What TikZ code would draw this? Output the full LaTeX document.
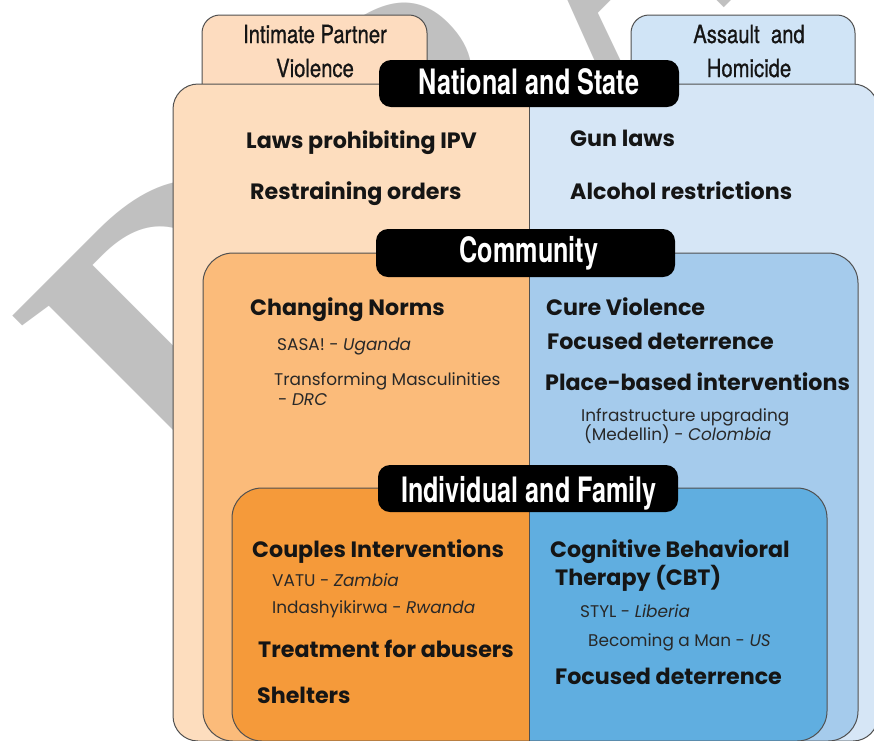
\documentclass[tikz,border=0pt]{standalone}
\usepackage{fontspec}
\setmainfont{Poppins}
\newfontfamily\headfont[FakeStretch=0.72]{TeX Gyre Heros}
\newfontfamily\tabfont[FakeStretch=0.81,FakeBold=0.8]{TeX Gyre Heros}
\newfontfamily\wmfont{Liberation Serif}
\definecolor{ipvA}{HTML}{FDDDBE}
\definecolor{ahA}{HTML}{D6E6F6}
\definecolor{ipvB}{HTML}{FBBB7A}
\definecolor{ahB}{HTML}{A5CBEC}
\definecolor{ipvC}{HTML}{F59A3A}
\definecolor{ahC}{HTML}{60AEE0}
\definecolor{tabL}{HTML}{FDDCBF}
\definecolor{tabR}{HTML}{D0E4F6}
\definecolor{edge}{HTML}{505050}
\definecolor{wmgray}{HTML}{C0C0C0}
\definecolor{ink}{HTML}{151515}
\begin{document}
\begin{tikzpicture}[x=1pt,y=-1pt,
  outline/.style={draw=edge, line width=1pt},
  divider/.style={draw=edge, line width=0.9pt},
  lblbox/.style={fill=black, rounded corners=12pt, inner sep=0pt},
  lbltext/.style={text=white, font=\headfont\bfseries\fontsize{35}{40}\selectfont, inner sep=0pt},
  tabtext/.style={text=ink, font=\tabfont\fontsize{25}{28}\selectfont, inner sep=0pt, anchor=base},
  hd/.style={text=ink, font=\bfseries\fontsize{22.2}{25}\selectfont, inner sep=0pt, anchor=base west},
  sub/.style={text=ink!92, font=\fontsize{16.9}{19}\selectfont, inner sep=0pt, anchor=base west},
  wm/.style={text=wmgray, font=\wmfont\bfseries\fontsize{390}{390}\selectfont, inner sep=0pt, anchor=base west}
]
\useasboundingbox (0,0) rectangle (874,740);
\fill[white] (0,0) rectangle (874,740);

% watermark
\node[wm, rotate=45] (wmD) at (188,502) {D};
\node[wm, rotate=45] (wmR) at (408.1,323.9) {RAFT};

% tabs
\filldraw[outline, fill=tabL, rounded corners=18pt] (202,15) rectangle (427,150);
\filldraw[outline, fill=tabR, rounded corners=18pt] (631,15) rectangle (855,150);

% National and State box
\begin{scope}
  \clip[rounded corners=25pt] (173,84) rectangle (878,741);
  \fill[ipvA] (173,84) rectangle (529,741);
  \fill[ahA] (529,84) rectangle (878,741);
  \draw[divider] (529,84) -- (529,741);
\end{scope}
\draw[outline, rounded corners=25pt] (173,84) rectangle (878,741);
\node[lblbox, minimum width=300pt, minimum height=47pt] (nsbox) at (529,83.5) {};
\node[lbltext, anchor=base] (ns) at (529,94) {National and State};

% Community box
\begin{scope}
  \clip[rounded corners=30pt] (203,253) rectangle (858,741);
  \fill[ipvB] (203,253) rectangle (529,741);
  \fill[ahB] (529,253) rectangle (858,741);
  \draw[divider] (529,253) -- (529,741);
\end{scope}
\draw[outline, rounded corners=30pt] (203,253) rectangle (858,741);
\node[lblbox, minimum width=299pt, minimum height=48pt] (cmbox) at (525.5,253) {};
\node[lbltext, anchor=base] (cm) at (529,262) {Community};

% Individual box
\begin{scope}
  \clip[rounded corners=30pt] (232,488) rectangle (827,741);
  \fill[ipvC] (232,488) rectangle (529,741);
  \fill[ahC] (529,488) rectangle (827,741);
  \draw[divider] (529,488) -- (529,741);
\end{scope}
\draw[outline, rounded corners=30pt] (232,488) rectangle (827,741);
\node[lblbox, minimum width=300pt, minimum height=47pt] (ifbox) at (528,488.5) {};
\node[lbltext, anchor=base] (if) at (529,502) {Individual and Family};

% tab texts
\node[tabtext] (t1) at (315,43) {Intimate Partner};
\node[tabtext] (t2) at (315,77) {Violence};
\node[tabtext] (t3) at (749,43) {Assault\ \ and};
\node[tabtext] (t4) at (749,77) {Homicide};

% National and State items
\node[hd] (n1) at (246,148) {Laws prohibiting IPV};
\node[hd] (n2) at (250,199) {Restraining orders};
\node[hd] (n3) at (570,146) {Gun laws};
\node[hd] (n4) at (570,199) {Alcohol restrictions};

% Community items
\node[hd] (c1) at (250,315) {Changing Norms};
\node[sub] (c1a) at (277,350) {SASA! - \textit{Uganda}};
\node[sub] (c1b) at (274,385) {Transforming Masculinities};
\node[sub] (c1c) at (278,405) {- \textit{DRC}};
\node[hd] (c2) at (546,315) {Cure Violence};
\node[hd] (c3) at (547,349) {Focused deterrence};
\node[hd] (c4) at (545,390) {Place-based interventions};
\node[sub] (c4a) at (581,421) {Infrastructure upgrading};
\node[sub] (c4b) at (584,440) {(Medellin) - \textit{Colombia}};

% Individual items
\node[hd] (i1) at (252,557) {Couples Interventions};
\node[sub] (i1a) at (272,586) {VATU - \textit{Zambia}};
\node[sub] (i1b) at (272,613) {Indashyikirwa - \textit{Rwanda}};
\node[hd] (i2) at (258,657) {Treatment for abusers};
\node[hd] (i3) at (257,703) {Shelters};
\node[hd] (i4) at (550,557) {Cognitive Behavioral};
\node[hd] (i5) at (555,585) {Therapy (CBT)};
\node[sub] (i5a) at (580,617) {STYL - \textit{Liberia}};
\node[sub] (i5b) at (588,646) {Becoming a Man - \textit{US}};
\node[hd] (i6) at (555,684) {Focused deterrence};
\end{tikzpicture}
\end{document}
